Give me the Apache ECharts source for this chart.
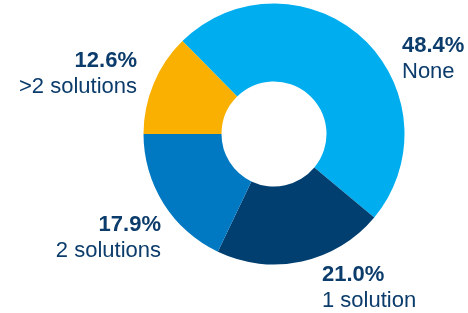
<!DOCTYPE html>
<html><head><meta charset="utf-8">
<script src="https://cdn.jsdelivr.net/npm/echarts@6/dist/echarts.min.js"></script>
<style>html,body{margin:0;padding:0;background:#fff}#c{width:468px;height:313px}</style>
</head><body><div id="c"></div>
<script>
const categories = ['None', '1 solution', '2 solutions', '>2 solutions'];
const values = [48.4, 21.0, 17.9, 12.6];
const colors = ['#00aeef', '#003f70', '#0079c2', '#f9b000'];
// label anchor positions [x, y, align]
const labelAnchors = [[402, 33, 'left'], [322, 262, 'left'], [161, 212, 'right'], [137, 48, 'right']];

const chart = echarts.init(document.getElementById('c'), null, {renderer: 'canvas'});
chart.setOption({
  animation: false,
  series: [{
    type: 'pie',
    center: [274, 134],
    radius: [52.5, 130.5],
    startAngle: 134.6,
    clockwise: true,
    data: categories.map((n, i) => ({name: n, value: values[i], itemStyle: {color: colors[i]}})),
    label: {
      show: true,
      position: 'outside',
      overflow: 'none',
      formatter: p => '{p|' + p.value.toFixed(1) + '%}\n{n|' + p.name + '}',
      rich: {
        p: {fontFamily: 'Liberation Sans', fontWeight: 'bold', fontSize: 22, lineHeight: 26, color: '#0b3c6b'},
        n: {fontFamily: 'Liberation Sans', fontSize: 22, lineHeight: 26, color: '#0b3c6b'}
      }
    },
    labelLine: {show: false},
    labelLayout: p => {
      const a = labelAnchors[p.dataIndex];
      return {x: a[0], y: a[1], align: a[2], verticalAlign: 'top'};
    },
    emphasis: {disabled: true}
  }]
});
</script></body></html>
